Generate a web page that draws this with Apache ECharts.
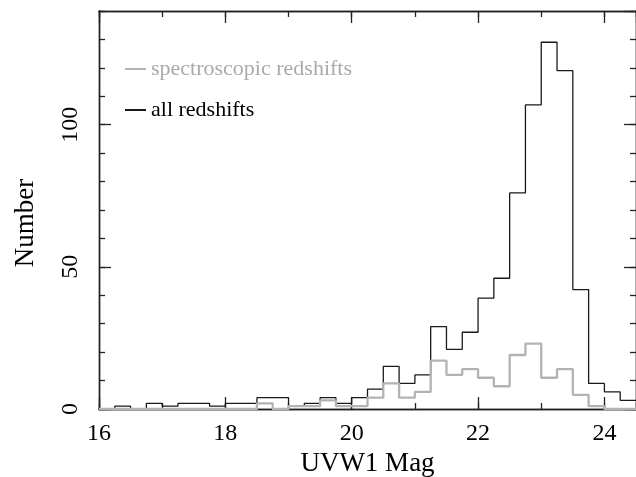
<!DOCTYPE html>
<html>
<head>
<meta charset="utf-8">
<script src="https://cdn.jsdelivr.net/npm/echarts@6/dist/echarts.min.js"></script>
<style>html,body{margin:0;padding:0;background:#fff}#c{width:636px;height:477px}</style>
</head>
<body>
<div id="c"></div>
<script>
// Bin edges (UVW1 magnitude), bin width 0.25
const binEdges = [16.0,16.25,16.5,16.75,17.0,17.25,17.5,17.75,18.0,18.25,18.5,18.75,19.0,19.25,19.5,19.75,
  20.0,20.25,20.5,20.75,21.0,21.25,21.5,21.75,22.0,22.25,22.5,22.75,23.0,23.25,23.5,23.75,24.0,24.25,24.5];
// Counts per bin (left edge -> next edge)
const allCounts = [0,1,0,2,1,2,2,1,2,2,4,4,1,2,4,2,
  4,7,15,9,12,29,21,27,39,46,76,107,129,119,42,9,6,3];
const specCounts = [0,0,0,0,0,0,0,0,0,0,2,0,1,1,3,1,
  1,4,9,4,6,17,12,14,11,8,19,23,11,14,5,1,0,0];
const xTickLabels = [16,18,20,22,24];
const yTickLabels = [0,50,100];
const seriesNames = ['spectroscopic redshifts','all redshifts'];

function stepData(counts){
  return binEdges.map((e,i)=>[e, counts[Math.min(i, counts.length-1)]]);
}

const FONT = 'Liberation Serif';
const AX = '#222';
const chart = echarts.init(document.getElementById('c'), null, {renderer:'canvas'});

function xAx(pos, interval, len, labels){
  return {
    type:'value', position:pos, min:16, max:24.5, interval:interval,
    axisLine:{show:true, onZero:false, lineStyle:{color:AX, width:1.4}},
    axisTick:{show:true, inside:true, length:len, lineStyle:{color:AX, width:1.3}},
    splitLine:{show:false},
    axisLabel:{show:labels, showMaxLabel:false, margin:13, fontFamily:FONT, fontSize:24, color:'#000',
      formatter:v=> xTickLabels.includes(v)? String(v):''},
    name: labels ? 'UVW1 Mag' : '',
    nameLocation:'middle', nameGap:36,
    nameTextStyle:{fontFamily:FONT, fontSize:27, color:'#000'}
  };
}
function yAx(pos, interval, len, labels){
  return {
    type:'value', position:pos, min:0, max:140, interval:interval,
    axisLine:{show:true, onZero:false, lineStyle:{color:AX, width:1.4}},
    axisTick:{show:true, inside:true, length:len, lineStyle:{color:AX, width:1.3}},
    splitLine:{show:false},
    axisLabel:{show:labels, showMaxLabel:false, rotate:90, margin:16, fontFamily:FONT, fontSize:24, color:'#000',
      formatter:v=> yTickLabels.includes(v)? String(v):''},
    name: labels ? 'Number' : '',
    nameLocation:'middle', nameGap:60, nameRotate:90,
    nameTextStyle:{fontFamily:FONT, fontSize:27, color:'#000', padding:[0,26,0,0]}
  };
}

chart.setOption({
  animation:false,
  backgroundColor:'#fff',
  grid:{left:99, right:0, top:11, bottom:68, containLabel:false, outerBoundsMode:'none'},
  legend:{
    orient:'vertical', left:120, top:53, itemWidth:21, itemHeight:2, itemGap:19,
    icon:'rect',
    data:[
      {name:seriesNames[0], textStyle:{color:'#aaaaaa'}},
      {name:seriesNames[1], textStyle:{color:'#000'}}
    ],
    textStyle:{fontFamily:FONT, fontSize:22, padding:[0,0,0,0]}
  },
  xAxis:[ xAx('bottom',2,12,true), xAx('bottom',1,6,false), xAx('top',2,12,false), xAx('top',1,6,false) ],
  yAxis:[ yAx('left',50,12,true), yAx('left',10,6,false), yAx('right',50,12,false), yAx('right',10,6,false) ],
  series:[
    {name:seriesNames[1], type:'line', step:'end', symbol:'none', xAxisIndex:0, yAxisIndex:0,
     data:stepData(allCounts), color:'#1a1a1a', lineStyle:{color:'#1a1a1a', width:1.3}, z:3},
    {name:seriesNames[0], type:'line', step:'end', symbol:'none', xAxisIndex:0, yAxisIndex:0,
     data:stepData(specCounts), color:'#b3b3b3', lineStyle:{color:'#b3b3b3', width:2.3}, z:4}
  ]
});
</script>
</body>
</html>
